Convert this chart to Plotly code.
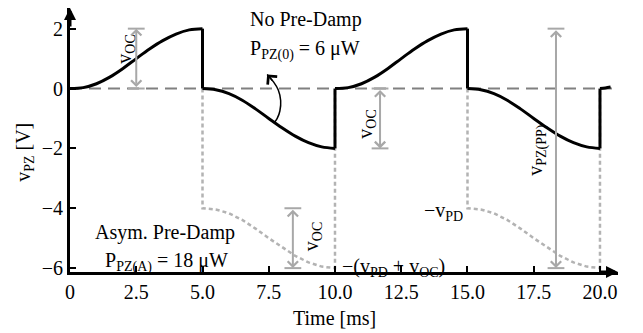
import plotly.graph_objects as go

# ---------------- data ----------------
# No pre-damp waveform, one list per smooth half-cycle
t_h1 = [0.0, 0.5, 1.0, 1.5, 2.0, 2.5, 3.0, 3.5, 4.0, 4.5, 5.0]
v_h1 = [0.0, 0.03, 0.16, 0.38, 0.67, 1.0, 1.32, 1.6, 1.82, 1.96, 2.0]
t_h2 = [5.0, 5.5, 6.0, 6.5, 7.0, 7.5, 8.0, 8.5, 9.0, 9.5, 10.0]
v_h2 = [0.0, -0.04, -0.17, -0.39, -0.68, -1.0, -1.31, -1.59, -1.81, -1.95, -2.0]
t_h3 = [10.0, 10.5, 11.0, 11.5, 12.0, 12.5, 13.0, 13.5, 14.0, 14.5, 15.0]
v_h3 = [0.0, 0.03, 0.16, 0.38, 0.67, 1.0, 1.32, 1.6, 1.82, 1.96, 2.0]
t_h4 = [15.0, 15.5, 16.0, 16.5, 17.0, 17.5, 18.0, 18.5, 19.0, 19.5, 20.0]
v_h4 = [0.0, -0.04, -0.17, -0.39, -0.68, -1.0, -1.31, -1.59, -1.81, -1.95, -2.0]
t_h5 = [20.0, 20.2, 20.4]
v_h5 = [0.0, 0.02, 0.05]
# vertical jumps of the no-pre-damp waveform (x, y pairs separated by None)
jump_t = [5.0, 5.0, None, 10.0, 10.0, None, 15.0, 15.0, None, 20.0, 20.0]
jump_v = [2.0, 0.0, None, -2.0, 0.0, None, 2.0, 0.0, None, -2.0, 0.0]

# Asymmetric pre-damp waveform (dotted)
t_pd1 = [5.0, 5.0, 5.5, 6.0, 6.5, 7.0, 7.5, 8.0, 8.5, 9.0, 9.5, 10.0, 10.0]
v_pd1 = [0.0, -4.0, -4.04, -4.17, -4.39, -4.68, -5.0, -5.31, -5.59, -5.81, -5.95, -6.0, 0.0]
t_pd2 = [15.0, 15.0, 15.5, 16.0, 16.5, 17.0, 17.5, 18.0, 18.5, 19.0, 19.5, 20.0, 20.0]
v_pd2 = [0.0, -4.0, -4.04, -4.17, -4.39, -4.68, -5.0, -5.31, -5.59, -5.81, -5.95, -6.0, 0.0]

# zero reference line
zero_t = [0.0, 20.45]
zero_v = [0.0, 0.0]

# dimension arrows: x position, start value, end value, label, label x, label y
dim_x = [2.5, 11.7, 8.41, 18.34]
dim_y0 = [0.0, 0.0, -4.0, 2.0]
dim_y1 = [2.0, -2.0, -6.0, -6.0]
dim_lab = ["v<sub>OC</sub>", "v<sub>OC</sub>", "v<sub>OC</sub>", "v<sub>PZ(PP)</sub>"]
dim_lab_x = [2.08, 11.18, 9.15, 17.62]
dim_lab_y = [1.3, -1.2, -4.95, -2.05]

# curved pointer from the "No Pre-Damp" label to the curve
ptr_t = [7.44, 7.68, 7.86, 7.95, 7.92, 7.82, 7.72]
ptr_v = [0.47, 0.22, -0.05, -0.4, -0.75, -1.0, -1.13]

# text labels
txt = ["No Pre-Damp", "P<sub>PZ(0)</sub> = 6 μW", "Asym. Pre-Damp",
       "P<sub>PZ(A)</sub> = 18 μW", "−v<sub>PD</sub>", "−(v<sub>PD</sub> + v<sub>OC</sub>)"]
txt_x = [6.72, 6.72, 0.87, 1.25, 14.92, 10.18]
txt_y = [2.3, 1.3, -4.82, -5.78, -4.1, -5.97]
txt_anchor = ["left", "left", "left", "left", "right", "left"]

x_tick_vals = [0, 2.5, 5, 7.5, 10, 12.5, 15, 17.5, 20]
x_tick_text = ["0", "2.5", "5.0", "7.5", "10.0", "12.5", "15.0", "17.5", "20.0"]
y_tick_vals = [2, 0, -2, -4, -6]
y_tick_text = ["2", "0", "−2", "−4", "−6"]

# ---------------- styling ----------------
FONT = "Liberation Serif, Times New Roman, Times, DejaVu Serif, serif"
FS = 20
GRAY_ARROW = "#a8a8a8"
GRAY_DOT = "#b3b3b3"
GRAY_DASH = "#808080"

fig = go.Figure()

fig.add_trace(go.Scatter(x=zero_t, y=zero_v, mode="lines",
                         line=dict(color=GRAY_DASH, width=2, dash="12px,7px"),
                         hoverinfo="skip", showlegend=False))

for tt, vv in [(t_pd1, v_pd1), (t_pd2, v_pd2)]:
    fig.add_trace(go.Scatter(x=tt, y=vv, mode="lines",
                             line=dict(color=GRAY_DOT, width=2.5, dash="4px,3px"),
                             hoverinfo="skip", showlegend=False))

for tt, vv in [(t_h1, v_h1), (t_h2, v_h2), (t_h3, v_h3), (t_h4, v_h4), (t_h5, v_h5)]:
    fig.add_trace(go.Scatter(x=tt, y=vv, mode="lines",
                             line=dict(color="black", width=3, shape="spline", smoothing=1.0),
                             hoverinfo="skip", showlegend=False))
fig.add_trace(go.Scatter(x=jump_t, y=jump_v, mode="lines",
                         line=dict(color="black", width=3),
                         connectgaps=False, hoverinfo="skip", showlegend=False))

# pointer curve
fig.add_trace(go.Scatter(x=ptr_t, y=ptr_v, mode="lines",
                         line=dict(color="black", width=1.5, shape="spline"),
                         hoverinfo="skip", showlegend=False))

# end bars of the dimension arrows
bar_x, bar_y = [], []
for xa, ya, yb in zip(dim_x, dim_y0, dim_y1):
    bar_x += [xa, xa]
    bar_y += [ya, yb]
fig.add_trace(go.Scatter(x=bar_x, y=bar_y, mode="markers",
                         marker=dict(symbol="line-ew", size=12,
                                     line=dict(color=GRAY_ARROW, width=2)),
                         hoverinfo="skip", showlegend=False))

annotations = []
for xa, ya, yb, lab, lx, ly in zip(dim_x, dim_y0, dim_y1, dim_lab, dim_lab_x, dim_lab_y):
    annotations.append(dict(x=xa, y=yb, ax=xa, ay=ya, xref="x", yref="y",
                            axref="x", ayref="y", text="", showarrow=True,
                            arrowhead=4, arrowsize=1, arrowwidth=2,
                            startarrowhead=4, startarrowsize=1,
                            arrowside="end+start", arrowcolor=GRAY_ARROW))
    annotations.append(dict(x=lx, y=ly, xref="x", yref="y", text=lab,
                            textangle=-90, showarrow=False,
                            font=dict(family=FONT, size=FS, color="black")))

# pointer arrow tip
annotations.append(dict(x=ptr_t[0], y=ptr_v[0], ax=ptr_t[1], ay=ptr_v[1],
                        xref="x", yref="y", axref="x", ayref="y", text="",
                        showarrow=True, arrowhead=4, arrowsize=1.6, arrowwidth=1.5,
                        arrowcolor="black"))

for s, x, y, a in zip(txt, txt_x, txt_y, txt_anchor):
    annotations.append(dict(x=x, y=y, xref="x", yref="y", text=s, showarrow=False,
                            xanchor=a, yanchor="middle",
                            font=dict(family=FONT, size=FS, color="black")))

# axis arrows
annotations.append(dict(x=0, y=1, xref="paper", yref="paper", ax=0, ay=20,
                        axref="pixel", ayref="pixel", text="", showarrow=True,
                        arrowhead=2, arrowsize=0.8, arrowwidth=3, arrowcolor="black"))
annotations.append(dict(x=1, y=0, xref="paper", yref="paper", ax=-20, ay=0,
                        text="", showarrow=True,
                        arrowhead=2, arrowsize=0.8, arrowwidth=3, arrowcolor="black"))

# axis titles
annotations.append(dict(x=10, y=0, xref="x", yref="paper", yshift=-46,
                        text="Time [ms]", showarrow=False, yanchor="middle",
                        font=dict(family=FONT, size=FS, color="black")))
annotations.append(dict(x=0, y=-2.15, xref="paper", yref="y", xshift=-45,
                        text="v<sub>PZ</sub> [V]", showarrow=False, textangle=-90,
                        xanchor="center", yanchor="middle",
                        font=dict(family=FONT, size=FS, color="black")))

fig.update_layout(
    width=643, height=333,
    margin=dict(l=70, r=25, t=8, b=61),
    paper_bgcolor="white", plot_bgcolor="white",
    font=dict(family=FONT, size=FS, color="black"),
    annotations=annotations,
    xaxis=dict(range=[0, 20.68], tickvals=x_tick_vals, ticktext=x_tick_text,
               showgrid=False, zeroline=False, showline=True, linecolor="black",
               linewidth=3, ticks="inside", ticklen=6, tickwidth=2, tickcolor="black",
               tickfont=dict(family=FONT, size=FS, color="black")),
    yaxis=dict(range=[-6.13, 2.69], tickvals=y_tick_vals, ticktext=y_tick_text,
               showgrid=False, zeroline=False, showline=True, linecolor="black",
               linewidth=3, ticks="inside", ticklen=6, tickwidth=2, tickcolor="black",
               tickfont=dict(family=FONT, size=FS, color="black")),
)

fig.write_html("out.html", config={"displayModeBar": False},
               post_script="document.body.style.margin='0px';document.body.style.overflow='hidden';")
